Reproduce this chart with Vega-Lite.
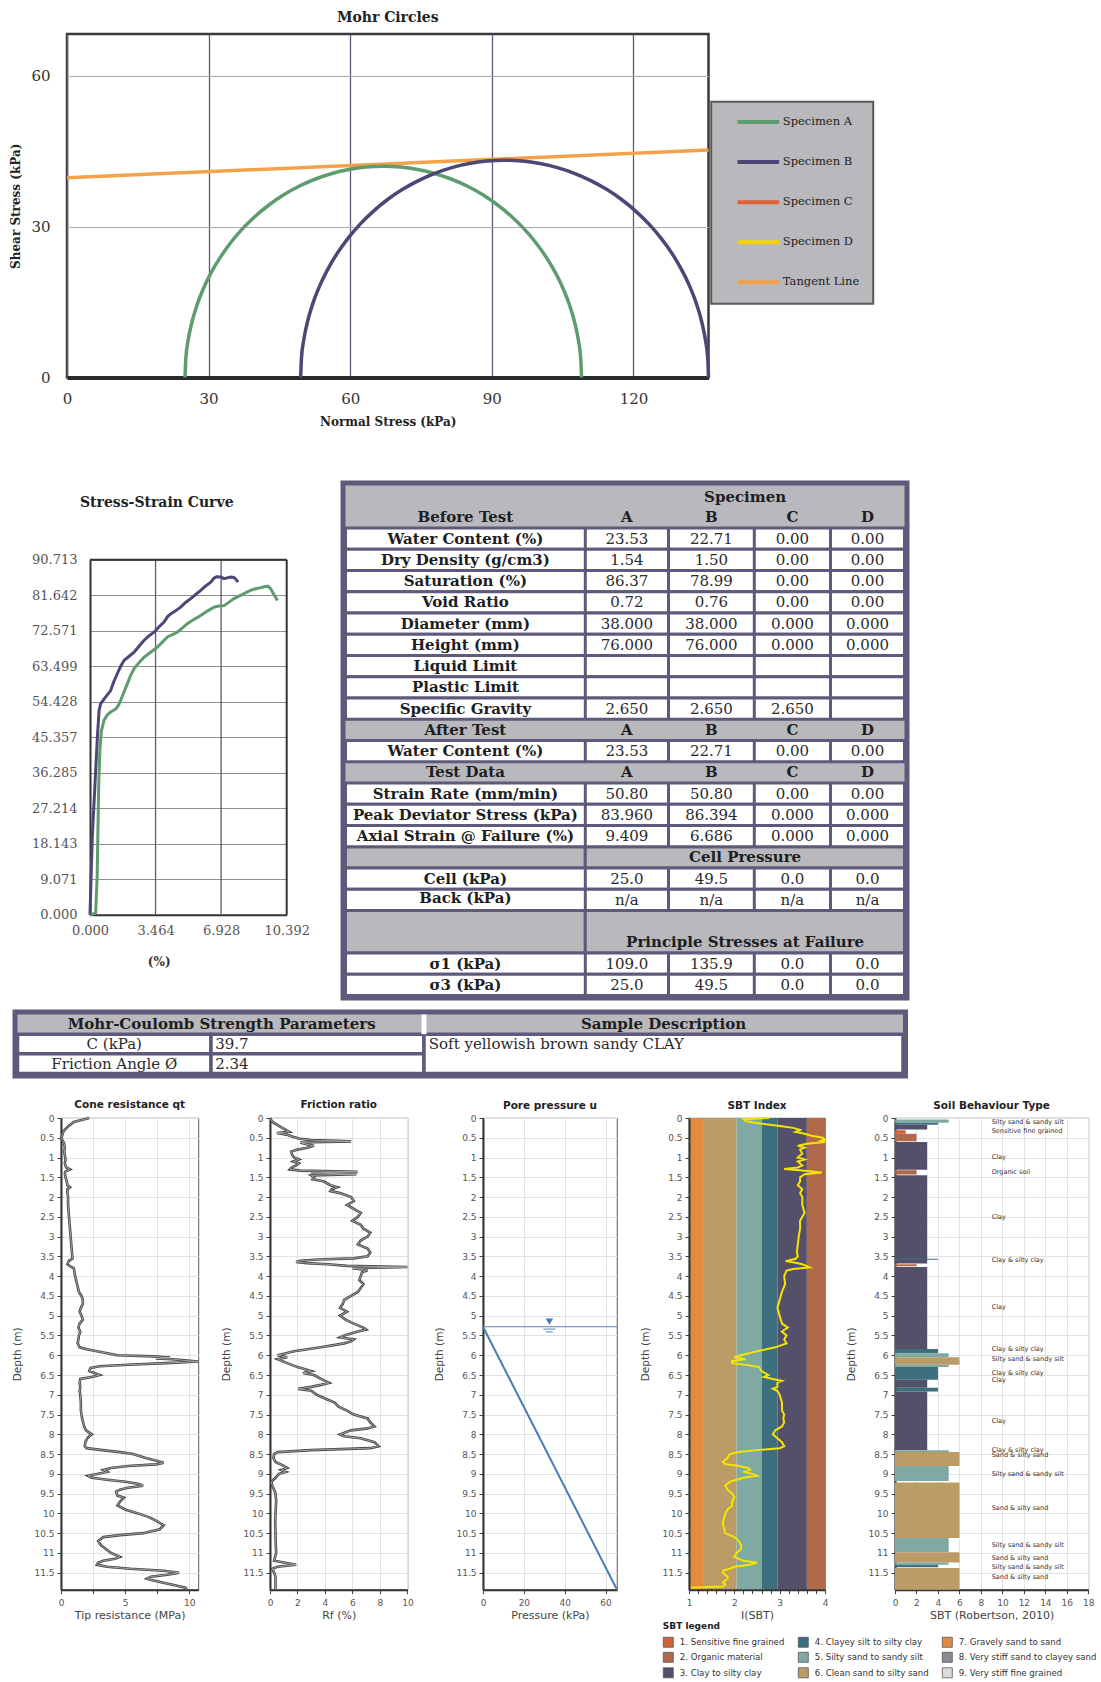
{
  "$schema": "https://vega.github.io/schema/vega-lite/v6.json",
  "autosize": {"type": "pad"},
  "padding": {"left": 0, "top": 10, "right": 0, "bottom": 0},
  "background": "#ffffff",
  "config": {
    "view": {"stroke": null},
    "font": "DejaVu Sans",
    "axis": {
      "labelFont": "DejaVu Sans", "labelFontSize": 9, "labelColor": "#555555",
      "titleFont": "DejaVu Sans", "titleFontSize": 11, "titleFontWeight": "normal", "titleColor": "#444444",
      "tickColor": "#444444", "tickSize": 4, "domainColor": "#333333", "domainWidth": 2,
      "gridColor": "#e2e2e2", "gridWidth": 1, "labelFlush": false, "labelOverlap": false, "labelBound": false
    },
    "title": {"font": "DejaVu Sans", "fontSize": 10.5, "fontWeight": "bold", "color": "#222222", "frame": "group", "baseline": "middle", "anchor": "middle", "offset": 2.75},
    "legend": {"strokeWidth": 2},
    "line": {"strokeCap": "butt"}
  },
  "datasets": {
    "tbl": [
      {"k": "head", "x0": 0, "x1": 5, "y0": 0, "y1": 2},
      {"k": "head", "x0": 0, "x1": 5, "y0": 11, "y1": 12},
      {"k": "head", "x0": 0, "x1": 5, "y0": 13, "y1": 14},
      {"k": "blk", "x0": 0, "x1": 1, "y0": 17, "y1": 18},
      {"k": "blk", "x0": 1, "x1": 5, "y0": 17, "y1": 18},
      {"k": "blk", "x0": 0, "x1": 1, "y0": 20, "y1": 22},
      {"k": "blk", "x0": 1, "x1": 5, "y0": 20, "y1": 22},
      {"k": "row", "x0": 0, "x1": 5, "y0": 2, "y1": 3},
      {"k": "row", "x0": 0, "x1": 5, "y0": 3, "y1": 4},
      {"k": "row", "x0": 0, "x1": 5, "y0": 4, "y1": 5},
      {"k": "row", "x0": 0, "x1": 5, "y0": 5, "y1": 6},
      {"k": "row", "x0": 0, "x1": 5, "y0": 6, "y1": 7},
      {"k": "row", "x0": 0, "x1": 5, "y0": 7, "y1": 8},
      {"k": "row", "x0": 0, "x1": 5, "y0": 8, "y1": 9},
      {"k": "row", "x0": 0, "x1": 5, "y0": 9, "y1": 10},
      {"k": "row", "x0": 0, "x1": 5, "y0": 10, "y1": 11},
      {"k": "row", "x0": 0, "x1": 5, "y0": 12, "y1": 13},
      {"k": "row", "x0": 0, "x1": 5, "y0": 14, "y1": 15},
      {"k": "row", "x0": 0, "x1": 5, "y0": 15, "y1": 16},
      {"k": "row", "x0": 0, "x1": 5, "y0": 16, "y1": 17},
      {"k": "row", "x0": 0, "x1": 5, "y0": 18, "y1": 19},
      {"k": "row", "x0": 0, "x1": 5, "y0": 19, "y1": 20},
      {"k": "row", "x0": 0, "x1": 5, "y0": 22, "y1": 23},
      {"k": "row", "x0": 0, "x1": 5, "y0": 23, "y1": 24},
      {"k": "sep", "x0": 1, "y0": 2, "y1": 11}, {"k": "sep", "x0": 2, "y0": 2, "y1": 11}, {"k": "sep", "x0": 3, "y0": 2, "y1": 11}, {"k": "sep", "x0": 4, "y0": 2, "y1": 11},
      {"k": "sep", "x0": 1, "y0": 12, "y1": 13}, {"k": "sep", "x0": 2, "y0": 12, "y1": 13}, {"k": "sep", "x0": 3, "y0": 12, "y1": 13}, {"k": "sep", "x0": 4, "y0": 12, "y1": 13},
      {"k": "sep", "x0": 1, "y0": 14, "y1": 17}, {"k": "sep", "x0": 2, "y0": 14, "y1": 17}, {"k": "sep", "x0": 3, "y0": 14, "y1": 17}, {"k": "sep", "x0": 4, "y0": 14, "y1": 17},
      {"k": "sep", "x0": 1, "y0": 18, "y1": 20}, {"k": "sep", "x0": 2, "y0": 18, "y1": 20}, {"k": "sep", "x0": 3, "y0": 18, "y1": 20}, {"k": "sep", "x0": 4, "y0": 18, "y1": 20},
      {"k": "sep", "x0": 1, "y0": 22, "y1": 24}, {"k": "sep", "x0": 2, "y0": 22, "y1": 24}, {"k": "sep", "x0": 3, "y0": 22, "y1": 24}, {"k": "sep", "x0": 4, "y0": 22, "y1": 24},
      {"k": "th", "x0": 2.893, "y0": 0.55, "t": "Specimen"},
      {"k": "th", "x0": 0.5, "y0": 1.5, "t": "Before Test"}, {"k": "th", "x0": 1.5, "y0": 1.5, "t": "A"}, {"k": "th", "x0": 2.5, "y0": 1.5, "t": "B"}, {"k": "th", "x0": 3.5, "y0": 1.5, "t": "C"}, {"k": "th", "x0": 4.5, "y0": 1.5, "t": "D"},
      {"k": "th", "x0": 0.5, "y0": 2.5, "t": "Water Content (%)"}, {"k": "tv", "x0": 1.5, "y0": 2.5, "t": "23.53"}, {"k": "tv", "x0": 2.5, "y0": 2.5, "t": "22.71"}, {"k": "tv", "x0": 3.5, "y0": 2.5, "t": "0.00"}, {"k": "tv", "x0": 4.5, "y0": 2.5, "t": "0.00"},
      {"k": "th", "x0": 0.5, "y0": 3.5, "t": "Dry Density (g/cm3)"}, {"k": "tv", "x0": 1.5, "y0": 3.5, "t": "1.54"}, {"k": "tv", "x0": 2.5, "y0": 3.5, "t": "1.50"}, {"k": "tv", "x0": 3.5, "y0": 3.5, "t": "0.00"}, {"k": "tv", "x0": 4.5, "y0": 3.5, "t": "0.00"},
      {"k": "th", "x0": 0.5, "y0": 4.5, "t": "Saturation (%)"}, {"k": "tv", "x0": 1.5, "y0": 4.5, "t": "86.37"}, {"k": "tv", "x0": 2.5, "y0": 4.5, "t": "78.99"}, {"k": "tv", "x0": 3.5, "y0": 4.5, "t": "0.00"}, {"k": "tv", "x0": 4.5, "y0": 4.5, "t": "0.00"},
      {"k": "th", "x0": 0.5, "y0": 5.5, "t": "Void Ratio"}, {"k": "tv", "x0": 1.5, "y0": 5.5, "t": "0.72"}, {"k": "tv", "x0": 2.5, "y0": 5.5, "t": "0.76"}, {"k": "tv", "x0": 3.5, "y0": 5.5, "t": "0.00"}, {"k": "tv", "x0": 4.5, "y0": 5.5, "t": "0.00"},
      {"k": "th", "x0": 0.5, "y0": 6.5, "t": "Diameter (mm)"}, {"k": "tv", "x0": 1.5, "y0": 6.5, "t": "38.000"}, {"k": "tv", "x0": 2.5, "y0": 6.5, "t": "38.000"}, {"k": "tv", "x0": 3.5, "y0": 6.5, "t": "0.000"}, {"k": "tv", "x0": 4.5, "y0": 6.5, "t": "0.000"},
      {"k": "th", "x0": 0.5, "y0": 7.5, "t": "Height (mm)"}, {"k": "tv", "x0": 1.5, "y0": 7.5, "t": "76.000"}, {"k": "tv", "x0": 2.5, "y0": 7.5, "t": "76.000"}, {"k": "tv", "x0": 3.5, "y0": 7.5, "t": "0.000"}, {"k": "tv", "x0": 4.5, "y0": 7.5, "t": "0.000"},
      {"k": "th", "x0": 0.5, "y0": 8.5, "t": "Liquid Limit"},
      {"k": "th", "x0": 0.5, "y0": 9.5, "t": "Plastic Limit"},
      {"k": "th", "x0": 0.5, "y0": 10.5, "t": "Specific Gravity"}, {"k": "tv", "x0": 1.5, "y0": 10.5, "t": "2.650"}, {"k": "tv", "x0": 2.5, "y0": 10.5, "t": "2.650"}, {"k": "tv", "x0": 3.5, "y0": 10.5, "t": "2.650"},
      {"k": "th", "x0": 0.5, "y0": 11.5, "t": "After Test"}, {"k": "th", "x0": 1.5, "y0": 11.5, "t": "A"}, {"k": "th", "x0": 2.5, "y0": 11.5, "t": "B"}, {"k": "th", "x0": 3.5, "y0": 11.5, "t": "C"}, {"k": "th", "x0": 4.5, "y0": 11.5, "t": "D"},
      {"k": "th", "x0": 0.5, "y0": 12.5, "t": "Water Content (%)"}, {"k": "tv", "x0": 1.5, "y0": 12.5, "t": "23.53"}, {"k": "tv", "x0": 2.5, "y0": 12.5, "t": "22.71"}, {"k": "tv", "x0": 3.5, "y0": 12.5, "t": "0.00"}, {"k": "tv", "x0": 4.5, "y0": 12.5, "t": "0.00"},
      {"k": "th", "x0": 0.5, "y0": 13.5, "t": "Test Data"}, {"k": "th", "x0": 1.5, "y0": 13.5, "t": "A"}, {"k": "th", "x0": 2.5, "y0": 13.5, "t": "B"}, {"k": "th", "x0": 3.5, "y0": 13.5, "t": "C"}, {"k": "th", "x0": 4.5, "y0": 13.5, "t": "D"},
      {"k": "th", "x0": 0.5, "y0": 14.5, "t": "Strain Rate (mm/min)"}, {"k": "tv", "x0": 1.5, "y0": 14.5, "t": "50.80"}, {"k": "tv", "x0": 2.5, "y0": 14.5, "t": "50.80"}, {"k": "tv", "x0": 3.5, "y0": 14.5, "t": "0.00"}, {"k": "tv", "x0": 4.5, "y0": 14.5, "t": "0.00"},
      {"k": "th", "x0": 0.5, "y0": 15.5, "t": "Peak Deviator Stress (kPa)"}, {"k": "tv", "x0": 1.5, "y0": 15.5, "t": "83.960"}, {"k": "tv", "x0": 2.5, "y0": 15.5, "t": "86.394"}, {"k": "tv", "x0": 3.5, "y0": 15.5, "t": "0.000"}, {"k": "tv", "x0": 4.5, "y0": 15.5, "t": "0.000"},
      {"k": "th", "x0": 0.5, "y0": 16.5, "t": "Axial Strain @ Failure (%)"}, {"k": "tv", "x0": 1.5, "y0": 16.5, "t": "9.409"}, {"k": "tv", "x0": 2.5, "y0": 16.5, "t": "6.686"}, {"k": "tv", "x0": 3.5, "y0": 16.5, "t": "0.000"}, {"k": "tv", "x0": 4.5, "y0": 16.5, "t": "0.000"},
      {"k": "th", "x0": 2.893, "y0": 17.5, "t": "Cell Pressure"},
      {"k": "th", "x0": 0.5, "y0": 18.5, "t": "Cell (kPa)"}, {"k": "tv", "x0": 1.5, "y0": 18.5, "t": "25.0"}, {"k": "tv", "x0": 2.5, "y0": 18.5, "t": "49.5"}, {"k": "tv", "x0": 3.5, "y0": 18.5, "t": "0.0"}, {"k": "tv", "x0": 4.5, "y0": 18.5, "t": "0.0"},
      {"k": "th", "x0": 0.5, "y0": 19.4, "t": "Back (kPa)"}, {"k": "tv", "x0": 1.5, "y0": 19.5, "t": "n/a"}, {"k": "tv", "x0": 2.5, "y0": 19.5, "t": "n/a"}, {"k": "tv", "x0": 3.5, "y0": 19.5, "t": "n/a"}, {"k": "tv", "x0": 4.5, "y0": 19.5, "t": "n/a"},
      {"k": "th", "x0": 2.893, "y0": 21.5, "t": "Principle Stresses at Failure"},
      {"k": "th", "x0": 0.5, "y0": 22.5, "t": "σ1 (kPa)"}, {"k": "tv", "x0": 1.5, "y0": 22.5, "t": "109.0"}, {"k": "tv", "x0": 2.5, "y0": 22.5, "t": "135.9"}, {"k": "tv", "x0": 3.5, "y0": 22.5, "t": "0.0"}, {"k": "tv", "x0": 4.5, "y0": 22.5, "t": "0.0"},
      {"k": "th", "x0": 0.5, "y0": 23.5, "t": "σ3 (kPa)"}, {"k": "tv", "x0": 1.5, "y0": 23.5, "t": "25.0"}, {"k": "tv", "x0": 2.5, "y0": 23.5, "t": "49.5"}, {"k": "tv", "x0": 3.5, "y0": 23.5, "t": "0.0"}, {"k": "tv", "x0": 4.5, "y0": 23.5, "t": "0.0"}
    ],
    "mc": [
      {"k": "head", "x0": 0, "x1": 2, "y0": 0, "y1": 1},
      {"k": "head", "x0": 2, "x1": 3, "y0": 0, "y1": 1},
      {"k": "cell", "x0": 0, "x1": 1, "y0": 1, "y1": 2},
      {"k": "cell", "x0": 1, "x1": 2, "y0": 1, "y1": 2},
      {"k": "cell", "x0": 0, "x1": 1, "y0": 2, "y1": 3},
      {"k": "cell", "x0": 1, "x1": 2, "y0": 2, "y1": 3},
      {"k": "cell", "x0": 2, "x1": 3, "y0": 1, "y1": 3},
      {"k": "wsep", "x0": 2, "y0": 0, "y1": 1},
      {"k": "th", "x0": 1.05, "y0": 0.5, "t": "Mohr-Coulomb Strength Parameters"},
      {"k": "th", "x0": 2.5, "y0": 0.5, "t": "Sample Description"},
      {"k": "tc", "x0": 0.5, "y0": 1.5, "t": "C (kPa)"},
      {"k": "tc", "x0": 0.5, "y0": 2.5, "t": "Friction Angle Ø"},
      {"k": "tl", "x0": 1.02, "y0": 1.5, "t": "39.7"},
      {"k": "tl", "x0": 1.02, "y0": 2.5, "t": "2.34"},
      {"k": "tl", "x0": 2.01, "y0": 1.5, "t": "Soft yellowish brown sandy CLAY"}
    ]
  },
  "spacing": 0,
  "resolve": {
    "scale": {"color": "independent", "fill": "independent", "stroke": "independent"},
    "legend": {"color": "independent", "fill": "independent", "stroke": "independent"}
  },
  "vconcat": [
    {
      "spacing": 0,
      "bounds": "flush",
      "resolve": {"scale": {"color": "independent"}, "legend": {"color": "independent"}},
      "hconcat": [
        {"width": 66.5, "height": 446, "data": {"values": []}, "mark": "point"},
        {
          "width": 641.5,
          "height": 343.5,
          "view": {"stroke": "#3a3a3a", "strokeWidth": 2.5},
          "title": {"text": "Mohr Circles", "font": "DejaVu Serif", "fontSize": 14, "fontWeight": "bold", "color": "#222222", "offset": 8.75},
          "data": {"values": [
            {"s": "Tangent Line", "a": 0, "x": 0, "y": 39.7},
            {"s": "Tangent Line", "a": 180, "x": 135.9, "y": 45.25},
            {"s": "Specimen A", "a": 0, "x": 25, "y": 0}, {"s": "Specimen A", "a": 5, "x": 25.16, "y": 3.66}, {"s": "Specimen A", "a": 10, "x": 25.64, "y": 7.29},
            {"s": "Specimen A", "a": 15, "x": 26.43, "y": 10.87}, {"s": "Specimen A", "a": 20, "x": 27.53, "y": 14.36}, {"s": "Specimen A", "a": 25, "x": 28.93, "y": 17.75},
            {"s": "Specimen A", "a": 30, "x": 30.63, "y": 21}, {"s": "Specimen A", "a": 35, "x": 32.6, "y": 24.09}, {"s": "Specimen A", "a": 40, "x": 34.83, "y": 27},
            {"s": "Specimen A", "a": 45, "x": 37.3, "y": 29.7}, {"s": "Specimen A", "a": 50, "x": 40, "y": 32.17}, {"s": "Specimen A", "a": 55, "x": 42.91, "y": 34.4},
            {"s": "Specimen A", "a": 60, "x": 46, "y": 36.37}, {"s": "Specimen A", "a": 65, "x": 49.25, "y": 38.07}, {"s": "Specimen A", "a": 70, "x": 52.64, "y": 39.47},
            {"s": "Specimen A", "a": 75, "x": 56.13, "y": 40.57}, {"s": "Specimen A", "a": 80, "x": 59.71, "y": 41.36}, {"s": "Specimen A", "a": 85, "x": 63.34, "y": 41.84},
            {"s": "Specimen A", "a": 90, "x": 67, "y": 42}, {"s": "Specimen A", "a": 95, "x": 70.66, "y": 41.84}, {"s": "Specimen A", "a": 100, "x": 74.29, "y": 41.36},
            {"s": "Specimen A", "a": 105, "x": 77.87, "y": 40.57}, {"s": "Specimen A", "a": 110, "x": 81.36, "y": 39.47}, {"s": "Specimen A", "a": 115, "x": 84.75, "y": 38.07},
            {"s": "Specimen A", "a": 120, "x": 88, "y": 36.37}, {"s": "Specimen A", "a": 125, "x": 91.09, "y": 34.4}, {"s": "Specimen A", "a": 130, "x": 94, "y": 32.17},
            {"s": "Specimen A", "a": 135, "x": 96.7, "y": 29.7}, {"s": "Specimen A", "a": 140, "x": 99.17, "y": 27}, {"s": "Specimen A", "a": 145, "x": 101.4, "y": 24.09},
            {"s": "Specimen A", "a": 150, "x": 103.37, "y": 21}, {"s": "Specimen A", "a": 155, "x": 105.07, "y": 17.75}, {"s": "Specimen A", "a": 160, "x": 106.47, "y": 14.36},
            {"s": "Specimen A", "a": 165, "x": 107.57, "y": 10.87}, {"s": "Specimen A", "a": 170, "x": 108.36, "y": 7.29}, {"s": "Specimen A", "a": 175, "x": 108.84, "y": 3.66},
            {"s": "Specimen A", "a": 180, "x": 109, "y": 0},
            {"s": "Specimen B", "a": 0, "x": 49.5, "y": 0}, {"s": "Specimen B", "a": 5, "x": 49.66, "y": 3.77}, {"s": "Specimen B", "a": 10, "x": 50.16, "y": 7.5},
            {"s": "Specimen B", "a": 15, "x": 50.97, "y": 11.18}, {"s": "Specimen B", "a": 20, "x": 52.11, "y": 14.78}, {"s": "Specimen B", "a": 25, "x": 53.55, "y": 18.26},
            {"s": "Specimen B", "a": 30, "x": 55.29, "y": 21.6}, {"s": "Specimen B", "a": 35, "x": 57.31, "y": 24.78}, {"s": "Specimen B", "a": 40, "x": 59.61, "y": 27.77},
            {"s": "Specimen B", "a": 45, "x": 62.15, "y": 30.55}, {"s": "Specimen B", "a": 50, "x": 64.93, "y": 33.09}, {"s": "Specimen B", "a": 55, "x": 67.92, "y": 35.39},
            {"s": "Specimen B", "a": 60, "x": 71.1, "y": 37.41}, {"s": "Specimen B", "a": 65, "x": 74.44, "y": 39.15}, {"s": "Specimen B", "a": 70, "x": 77.93, "y": 40.6},
            {"s": "Specimen B", "a": 75, "x": 81.52, "y": 41.73}, {"s": "Specimen B", "a": 80, "x": 85.2, "y": 42.54}, {"s": "Specimen B", "a": 85, "x": 88.94, "y": 43.04},
            {"s": "Specimen B", "a": 90, "x": 92.7, "y": 43.2}, {"s": "Specimen B", "a": 95, "x": 96.47, "y": 43.04}, {"s": "Specimen B", "a": 100, "x": 100.2, "y": 42.54},
            {"s": "Specimen B", "a": 105, "x": 103.88, "y": 41.73}, {"s": "Specimen B", "a": 110, "x": 107.48, "y": 40.6}, {"s": "Specimen B", "a": 115, "x": 110.96, "y": 39.15},
            {"s": "Specimen B", "a": 120, "x": 114.3, "y": 37.41}, {"s": "Specimen B", "a": 125, "x": 117.48, "y": 35.39}, {"s": "Specimen B", "a": 130, "x": 120.47, "y": 33.09},
            {"s": "Specimen B", "a": 135, "x": 123.25, "y": 30.55}, {"s": "Specimen B", "a": 140, "x": 125.79, "y": 27.77}, {"s": "Specimen B", "a": 145, "x": 128.09, "y": 24.78},
            {"s": "Specimen B", "a": 150, "x": 130.11, "y": 21.6}, {"s": "Specimen B", "a": 155, "x": 131.86, "y": 18.26}, {"s": "Specimen B", "a": 160, "x": 133.3, "y": 14.78},
            {"s": "Specimen B", "a": 165, "x": 134.43, "y": 11.18}, {"s": "Specimen B", "a": 170, "x": 135.24, "y": 7.5}, {"s": "Specimen B", "a": 175, "x": 135.74, "y": 3.77},
            {"s": "Specimen B", "a": 180, "x": 135.9, "y": 0}
          ]},
          "mark": {"type": "line", "strokeWidth": 3.5, "interpolate": "monotone"},
          "encoding": {
            "x": {
              "field": "x", "type": "quantitative",
              "scale": {"domain": [0, 135.9], "nice": false},
              "axis": {
                "title": "Normal Stress (kPa)", "values": [0, 30, 60, 90, 120], "grid": true, "gridColor": "#5c5a78", "gridWidth": 1.3,
                "ticks": false, "domain": true, "domainColor": "#2a2a2a", "domainWidth": 4,
                "labelFont": "DejaVu Serif", "labelFontSize": 15, "labelColor": "#333333", "labelPadding": 14,
                "titleFont": "DejaVu Serif", "titleFontSize": 12, "titleFontWeight": "bold", "titleColor": "#222222", "titlePadding": 10
              }
            },
            "y": {
              "field": "y", "type": "quantitative",
              "scale": {"domain": [0, 68.3], "nice": false},
              "axis": {
                "title": "Shear Stress (kPa)", "values": [0, 30, 60], "grid": true, "gridColor": "#a9a9a9", "gridWidth": 1,
                "ticks": false, "domain": false,
                "labelFont": "DejaVu Serif", "labelFontSize": 15, "labelColor": "#333333", "labelPadding": 17,
                "titleFont": "DejaVu Serif", "titleFontSize": 12, "titleFontWeight": "bold", "titleColor": "#222222", "titlePadding": 8
              }
            },
            "color": {
              "field": "s", "type": "nominal",
              "scale": {
                "domain": ["Specimen A", "Specimen B", "Specimen C", "Specimen D", "Tangent Line"],
                "range": ["#5e9c6e", "#4c4776", "#e0603a", "#f2d400", "#f4a24a"]
              },
              "legend": {
                "title": null, "orient": "none", "legendX": 644.2, "legendY": 67.7,
                "padding": 13.25, "fillColor": "#b9b9bd", "strokeColor": "#5a5a5a",
                "symbolType": "M1.21,0H9.55", "symbolSize": 100, "symbolStrokeWidth": 4,
                "labelOffset": 44.35, "rowPadding": 24.1,
                "labelFont": "DejaVu Serif", "labelFontSize": 11.5, "labelColor": "#222222", "labelLimit": 0
              }
            },
            "order": {"field": "a", "type": "quantitative"}
          }
        }
      ]
    },
    {
      "spacing": 0,
      "bounds": "flush",
      "hconcat": [
        {"width": 89.3, "height": 525.5, "data": {"values": []}, "mark": "point"},
        {
          "width": 196.7,
          "height": 431.8,
          "title": {"text": "Stress-Strain Curve", "font": "DejaVu Serif", "fontSize": 14, "fontWeight": "bold", "color": "#222222", "offset": -27.2, "dx": -31.6},
          "layer": [
            {
              "data": {"values": [{"g": 3.464, "lo": 0, "hi": 90.713}, {"g": 6.928, "lo": 0, "hi": 90.713}]},
              "mark": {"type": "rule", "color": "#5c5a78", "strokeWidth": 1.3},
              "encoding": {
                "x": {"field": "g", "type": "quantitative", "scale": {"domain": [0, 10.392], "nice": false}},
                "y": {"field": "lo", "type": "quantitative"},
                "y2": {"field": "hi"}
              }
            },
            {
              "data": {"values": [
                {"s": "Specimen B", "e": 0, "q": 0}, {"s": "Specimen B", "e": 0.12, "q": 19.8}, {"s": "Specimen B", "e": 0.3, "q": 36.9},
                {"s": "Specimen B", "e": 0.39, "q": 45.4}, {"s": "Specimen B", "e": 0.48, "q": 52.2}, {"s": "Specimen B", "e": 0.56, "q": 53.9},
                {"s": "Specimen B", "e": 0.8, "q": 55.5}, {"s": "Specimen B", "e": 1.09, "q": 57.3}, {"s": "Specimen B", "e": 1.25, "q": 59.5},
                {"s": "Specimen B", "e": 1.44, "q": 61.6}, {"s": "Specimen B", "e": 1.62, "q": 63.5}, {"s": "Specimen B", "e": 1.8, "q": 65.0},
                {"s": "Specimen B", "e": 2.05, "q": 66.0}, {"s": "Specimen B", "e": 2.33, "q": 67.1}, {"s": "Specimen B", "e": 2.6, "q": 68.7},
                {"s": "Specimen B", "e": 2.85, "q": 70.1}, {"s": "Specimen B", "e": 3.1, "q": 71.2}, {"s": "Specimen B", "e": 3.38, "q": 72.2},
                {"s": "Specimen B", "e": 3.65, "q": 73.6}, {"s": "Specimen B", "e": 3.91, "q": 74.8}, {"s": "Specimen B", "e": 4.1, "q": 76.2},
                {"s": "Specimen B", "e": 4.26, "q": 76.9}, {"s": "Specimen B", "e": 4.5, "q": 77.6}, {"s": "Specimen B", "e": 4.79, "q": 78.6},
                {"s": "Specimen B", "e": 5.05, "q": 79.8}, {"s": "Specimen B", "e": 5.32, "q": 80.8}, {"s": "Specimen B", "e": 5.6, "q": 81.9},
                {"s": "Specimen B", "e": 5.85, "q": 82.9}, {"s": "Specimen B", "e": 6.1, "q": 84.0}, {"s": "Specimen B", "e": 6.38, "q": 85.0},
                {"s": "Specimen B", "e": 6.55, "q": 86.0}, {"s": "Specimen B", "e": 6.686, "q": 86.394}, {"s": "Specimen B", "e": 6.91, "q": 86.3},
                {"s": "Specimen B", "e": 7.08, "q": 85.9}, {"s": "Specimen B", "e": 7.25, "q": 86.1}, {"s": "Specimen B", "e": 7.43, "q": 86.3},
                {"s": "Specimen B", "e": 7.6, "q": 86.2}, {"s": "Specimen B", "e": 7.72, "q": 85.7}, {"s": "Specimen B", "e": 7.82, "q": 85.0},
                {"s": "Specimen A", "e": 0.05, "q": 0}, {"s": "Specimen A", "e": 0.3, "q": 0.5}, {"s": "Specimen A", "e": 0.38, "q": 10},
                {"s": "Specimen A", "e": 0.42, "q": 22}, {"s": "Specimen A", "e": 0.46, "q": 33}, {"s": "Specimen A", "e": 0.52, "q": 42},
                {"s": "Specimen A", "e": 0.6, "q": 47}, {"s": "Specimen A", "e": 0.74, "q": 49.7}, {"s": "Specimen A", "e": 0.9, "q": 51},
                {"s": "Specimen A", "e": 1.09, "q": 51.8}, {"s": "Specimen A", "e": 1.36, "q": 52.6}, {"s": "Specimen A", "e": 1.5, "q": 53.5},
                {"s": "Specimen A", "e": 1.62, "q": 54.8}, {"s": "Specimen A", "e": 1.8, "q": 57.0}, {"s": "Specimen A", "e": 1.97, "q": 59.0},
                {"s": "Specimen A", "e": 2.15, "q": 61.2}, {"s": "Specimen A", "e": 2.33, "q": 62.9}, {"s": "Specimen A", "e": 2.6, "q": 64.5},
                {"s": "Specimen A", "e": 2.85, "q": 65.8}, {"s": "Specimen A", "e": 3.2, "q": 67.1}, {"s": "Specimen A", "e": 3.56, "q": 68.4},
                {"s": "Specimen A", "e": 3.85, "q": 69.8}, {"s": "Specimen A", "e": 4.09, "q": 71.0}, {"s": "Specimen A", "e": 4.35, "q": 71.6},
                {"s": "Specimen A", "e": 4.61, "q": 72.2}, {"s": "Specimen A", "e": 4.9, "q": 73.4}, {"s": "Specimen A", "e": 5.14, "q": 74.4},
                {"s": "Specimen A", "e": 5.5, "q": 75.5}, {"s": "Specimen A", "e": 5.85, "q": 76.5}, {"s": "Specimen A", "e": 6.2, "q": 77.6},
                {"s": "Specimen A", "e": 6.55, "q": 78.6}, {"s": "Specimen A", "e": 6.8, "q": 78.9}, {"s": "Specimen A", "e": 7.08, "q": 79.0},
                {"s": "Specimen A", "e": 7.35, "q": 79.9}, {"s": "Specimen A", "e": 7.61, "q": 80.8}, {"s": "Specimen A", "e": 7.95, "q": 81.6},
                {"s": "Specimen A", "e": 8.31, "q": 82.5}, {"s": "Specimen A", "e": 8.65, "q": 83.2}, {"s": "Specimen A", "e": 9.02, "q": 83.6},
                {"s": "Specimen A", "e": 9.25, "q": 83.9}, {"s": "Specimen A", "e": 9.409, "q": 83.96}, {"s": "Specimen A", "e": 9.55, "q": 83.3},
                {"s": "Specimen A", "e": 9.7, "q": 82.0}, {"s": "Specimen A", "e": 9.82, "q": 81.0}, {"s": "Specimen A", "e": 9.9, "q": 80.3}
              ]},
              "mark": {"type": "line", "strokeWidth": 3},
              "encoding": {
                "x": {
                  "field": "e", "type": "quantitative",
                  "scale": {"domain": [0, 10.392], "nice": false},
                  "axis": {
                    "title": "(%)", "values": [0, 3.464, 6.928, 10.392], "format": ".3f", "grid": false, "ticks": false,
                    "domain": true, "domainColor": "#333333", "domainWidth": 2,
                    "labelFont": "DejaVu Serif", "labelFontSize": 13, "labelColor": "#555555", "labelPadding": 10,
                    "titleFont": "DejaVu Serif", "titleFontSize": 12, "titleFontWeight": "bold", "titleColor": "#333333", "titlePadding": 19, "titleX": 68.7
                  }
                },
                "y": {
                  "field": "q", "type": "quantitative",
                  "scale": {"domain": [0, 90.713], "nice": false, "range": [431.8, 76.8]},
                  "axis": {
                    "title": null, "values": [0, 9.071, 18.143, 27.214, 36.285, 45.357, 54.428, 63.499, 72.571, 81.642, 90.713], "format": ".3f",
                    "grid": true, "gridColor": "#8e8e8e", "gridWidth": 1, "ticks": false,
                    "domain": true, "domainColor": "#333333", "domainWidth": 2,
                    "labelFont": "DejaVu Serif", "labelFontSize": 13, "labelColor": "#555555", "labelPadding": 13
                  }
                },
                "stroke": {"field": "s", "type": "nominal", "scale": {"domain": ["Specimen A", "Specimen B"], "range": ["#5e9c6e", "#4c4776"]}, "legend": null},
                "order": {"field": "e", "type": "quantitative"}
              }
            },
            {
              "data": {"values": [{"a": 0, "b": 10.392, "c": 90.713}]},
              "mark": {"type": "rule", "color": "#333333", "strokeWidth": 2},
              "encoding": {"x": {"field": "a", "type": "quantitative"}, "x2": {"field": "b"}, "y": {"field": "c", "type": "quantitative"}}
            },
            {
              "data": {"values": [{"a": 10.392, "c": 0, "f": 90.713}]},
              "mark": {"type": "rule", "color": "#333333", "strokeWidth": 2},
              "encoding": {"x": {"field": "a", "type": "quantitative"}, "y": {"field": "c", "type": "quantitative"}, "y2": {"field": "f"}}
            }
          ]
        },
        {"width": 55.5, "height": 1, "data": {"values": []}, "mark": "point"},
        {
          "width": 564,
          "height": 515,
          "view": {"stroke": "#5e5a7b", "strokeWidth": 5, "fill": "#5e5a7b"},
          "data": {"name": "tbl"},
          "encoding": {
            "x": {"field": "x0", "type": "quantitative", "scale": {"type": "linear", "domain": [0, 1, 2, 3, 4, 5], "range": [2.5, 242.3, 325.5, 411.3, 487.5, 561.5]}, "axis": null},
            "y": {"field": "y0", "type": "quantitative", "scale": {"domain": [0, 24], "range": [2.5, 512.5]}, "axis": null}
          },
          "layer": [
            {"transform": [{"filter": "datum.k === 'head'"}], "mark": {"type": "rect", "fill": "#b8b8bd"}, "encoding": {"x2": {"field": "x1"}, "y2": {"field": "y1"}}},
            {"transform": [{"filter": "datum.k === 'blk'"}], "mark": {"type": "rect", "fill": "#b8b8bd", "stroke": "#5e5a7b", "strokeWidth": 3}, "encoding": {"x2": {"field": "x1"}, "y2": {"field": "y1"}}},
            {"transform": [{"filter": "datum.k === 'row'"}], "mark": {"type": "rect", "fill": "#ffffff", "stroke": "#5e5a7b", "strokeWidth": 3}, "encoding": {"x2": {"field": "x1"}, "y2": {"field": "y1"}}},
            {"transform": [{"filter": "datum.k === 'sep'"}], "mark": {"type": "rule", "color": "#5e5a7b", "strokeWidth": 3}, "encoding": {"y2": {"field": "y1"}}},
            {"transform": [{"filter": "datum.k === 'th'"}], "mark": {"type": "text", "font": "DejaVu Serif", "fontSize": 15, "fontWeight": "bold", "color": "#1e1e1e", "align": "center", "baseline": "middle"}, "encoding": {"text": {"field": "t"}}},
            {"transform": [{"filter": "datum.k === 'tv'"}], "mark": {"type": "text", "font": "DejaVu Serif", "fontSize": 15, "color": "#2a2a2a", "align": "center", "baseline": "middle"}, "encoding": {"text": {"field": "t"}}}
          ]
        }
      ]
    },
    {
      "spacing": 0,
      "bounds": "flush",
      "hconcat": [
        {"width": 15, "height": 85.5, "data": {"values": []}, "mark": "point"},
        {
          "width": 890.5,
          "height": 64,
          "view": {"stroke": "#5e5a7b", "strokeWidth": 5, "fill": "#5e5a7b"},
          "data": {"name": "mc"},
          "encoding": {
            "x": {"field": "x0", "type": "quantitative", "scale": {"type": "linear", "domain": [0, 1, 2, 3], "range": [2.5, 196, 409, 888]}, "axis": null},
            "y": {"field": "y0", "type": "quantitative", "scale": {"domain": [0, 3], "range": [2.5, 61.5]}, "axis": null}
          },
          "layer": [
            {"transform": [{"filter": "datum.k === 'head'"}], "mark": {"type": "rect", "fill": "#b8b8bd"}, "encoding": {"x2": {"field": "x1"}, "y2": {"field": "y1"}}},
            {"transform": [{"filter": "datum.k === 'cell'"}], "mark": {"type": "rect", "fill": "#ffffff", "stroke": "#5e5a7b", "strokeWidth": 3.5}, "encoding": {"x2": {"field": "x1"}, "y2": {"field": "y1"}}},
            {"transform": [{"filter": "datum.k === 'wsep'"}], "mark": {"type": "rule", "color": "#ffffff", "strokeWidth": 5}, "encoding": {"y2": {"field": "y1"}}},
            {"transform": [{"filter": "datum.k === 'th'"}], "mark": {"type": "text", "font": "DejaVu Serif", "fontSize": 15, "fontWeight": "bold", "color": "#1e1e1e", "align": "center", "baseline": "middle"}, "encoding": {"text": {"field": "t"}}},
            {"transform": [{"filter": "datum.k === 'tc'"}], "mark": {"type": "text", "font": "DejaVu Serif", "fontSize": 15, "color": "#2a2a2a", "align": "center", "baseline": "middle"}, "encoding": {"text": {"field": "t"}}},
            {"transform": [{"filter": "datum.k === 'tl'"}], "mark": {"type": "text", "font": "DejaVu Serif", "fontSize": 15, "color": "#2a2a2a", "align": "left", "baseline": "middle"}, "encoding": {"text": {"field": "t"}}}
          ]
        }
      ]
    },
    {
      "spacing": 0,
      "bounds": "flush",
      "resolve": {"scale": {"fill": "independent"}, "legend": {"fill": "independent"}},
      "hconcat": [
        {"width": 61, "height": 1, "data": {"values": []}, "mark": "point"},
        {
          "width": 137.3,
          "height": 471.7,
          "view": {"stroke": "#777777", "strokeWidth": 1.2},
          "title": {"text": "Cone resistance qt"},
          "data": {"values": [
            {"d": 0, "v": 2.2}, {"d": 0.05, "v": 1.6}, {"d": 0.1, "v": 1.0}, {"d": 0.2, "v": 0.6}, {"d": 0.33, "v": 0.2}, {"d": 0.45, "v": 0.08},
            {"d": 0.52, "v": 0.0}, {"d": 0.58, "v": 0.15}, {"d": 0.65, "v": 0.25}, {"d": 0.75, "v": 0.3}, {"d": 0.85, "v": 0.25}, {"d": 0.95, "v": 0.3},
            {"d": 1.05, "v": 0.35}, {"d": 1.15, "v": 0.3}, {"d": 1.25, "v": 0.4}, {"d": 1.3, "v": 0.7}, {"d": 1.35, "v": 0.35}, {"d": 1.4, "v": 0.3},
            {"d": 1.5, "v": 0.35}, {"d": 1.6, "v": 0.45}, {"d": 1.7, "v": 0.5}, {"d": 1.75, "v": 0.7}, {"d": 1.8, "v": 0.5}, {"d": 1.9, "v": 0.5},
            {"d": 2.0, "v": 0.55}, {"d": 2.2, "v": 0.55}, {"d": 2.4, "v": 0.6}, {"d": 2.6, "v": 0.65}, {"d": 2.8, "v": 0.7}, {"d": 3.0, "v": 0.75},
            {"d": 3.2, "v": 0.8}, {"d": 3.4, "v": 0.85}, {"d": 3.55, "v": 0.9}, {"d": 3.62, "v": 0.6}, {"d": 3.7, "v": 0.5}, {"d": 3.75, "v": 0.7},
            {"d": 3.8, "v": 1.0}, {"d": 3.9, "v": 1.05}, {"d": 4.0, "v": 1.1}, {"d": 4.2, "v": 1.25}, {"d": 4.4, "v": 1.4}, {"d": 4.5, "v": 1.6},
            {"d": 4.6, "v": 1.7}, {"d": 4.7, "v": 1.7}, {"d": 4.8, "v": 1.55}, {"d": 4.9, "v": 1.45}, {"d": 5.0, "v": 1.6}, {"d": 5.1, "v": 1.7},
            {"d": 5.2, "v": 1.45}, {"d": 5.3, "v": 1.35}, {"d": 5.4, "v": 1.5}, {"d": 5.5, "v": 1.4}, {"d": 5.6, "v": 1.35}, {"d": 5.7, "v": 1.3},
            {"d": 5.8, "v": 1.45}, {"d": 5.85, "v": 2.0}, {"d": 5.9, "v": 2.8}, {"d": 5.95, "v": 3.6}, {"d": 6.0, "v": 4.4}, {"d": 6.03, "v": 7.2},
            {"d": 6.06, "v": 8.5}, {"d": 6.08, "v": 7.4}, {"d": 6.1, "v": 8.7}, {"d": 6.13, "v": 9.6}, {"d": 6.16, "v": 10.7}, {"d": 6.2, "v": 8.2},
            {"d": 6.24, "v": 5.2}, {"d": 6.28, "v": 3.0}, {"d": 6.32, "v": 2.3}, {"d": 6.4, "v": 2.2}, {"d": 6.45, "v": 2.6}, {"d": 6.5, "v": 3.0},
            {"d": 6.55, "v": 2.4}, {"d": 6.6, "v": 1.5}, {"d": 6.7, "v": 1.45}, {"d": 6.8, "v": 1.5}, {"d": 6.9, "v": 1.45}, {"d": 7.0, "v": 1.5},
            {"d": 7.2, "v": 1.55}, {"d": 7.4, "v": 1.55}, {"d": 7.6, "v": 1.65}, {"d": 7.8, "v": 1.8}, {"d": 7.9, "v": 1.95}, {"d": 8.0, "v": 2.4},
            {"d": 8.05, "v": 2.2}, {"d": 8.1, "v": 2.05}, {"d": 8.2, "v": 1.9}, {"d": 8.3, "v": 1.85}, {"d": 8.35, "v": 2.0}, {"d": 8.4, "v": 3.2},
            {"d": 8.45, "v": 4.6}, {"d": 8.5, "v": 5.6}, {"d": 8.6, "v": 6.6}, {"d": 8.68, "v": 7.6}, {"d": 8.72, "v": 8.0}, {"d": 8.76, "v": 7.4},
            {"d": 8.8, "v": 5.2}, {"d": 8.85, "v": 3.9}, {"d": 8.9, "v": 3.3}, {"d": 8.95, "v": 3.6}, {"d": 9.0, "v": 2.9}, {"d": 9.05, "v": 2.1},
            {"d": 9.1, "v": 2.4}, {"d": 9.15, "v": 3.6}, {"d": 9.2, "v": 5.0}, {"d": 9.25, "v": 6.0}, {"d": 9.3, "v": 6.4}, {"d": 9.35, "v": 5.2},
            {"d": 9.4, "v": 4.6}, {"d": 9.45, "v": 4.3}, {"d": 9.55, "v": 4.4}, {"d": 9.6, "v": 4.9}, {"d": 9.7, "v": 4.6}, {"d": 9.8, "v": 4.4},
            {"d": 9.9, "v": 5.0}, {"d": 10.0, "v": 6.0}, {"d": 10.1, "v": 6.9}, {"d": 10.2, "v": 7.5}, {"d": 10.3, "v": 8.0}, {"d": 10.4, "v": 7.7},
            {"d": 10.5, "v": 6.4}, {"d": 10.55, "v": 4.6}, {"d": 10.6, "v": 3.3}, {"d": 10.7, "v": 2.9}, {"d": 10.8, "v": 3.1}, {"d": 10.9, "v": 3.5},
            {"d": 11.0, "v": 3.9}, {"d": 11.1, "v": 4.6}, {"d": 11.15, "v": 4.2}, {"d": 11.2, "v": 3.3}, {"d": 11.25, "v": 2.9}, {"d": 11.3, "v": 2.8},
            {"d": 11.35, "v": 3.6}, {"d": 11.4, "v": 5.4}, {"d": 11.45, "v": 8.0}, {"d": 11.5, "v": 9.2}, {"d": 11.55, "v": 8.3}, {"d": 11.6, "v": 7.0},
            {"d": 11.65, "v": 6.7}, {"d": 11.7, "v": 7.2}, {"d": 11.8, "v": 8.6}, {"d": 11.88, "v": 9.7}, {"d": 11.93, "v": 9.8}
          ]},
          "encoding": {
            "x": {
              "field": "v", "type": "quantitative", "scale": {"domain": [0, 10.7], "nice": false},
              "axis": {"title": "Tip resistance (MPa)", "values": [0, 2.5, 5, 7.5, 10], "labelExpr": "datum.value % 5 === 0 ? datum.label : ''", "grid": true, "labelPadding": 4.5, "titlePadding": 2.5}
            },
            "y": {
              "field": "d", "type": "quantitative", "scale": {"domain": [0, 11.93], "reverse": true, "nice": false},
              "axis": {"title": "Depth (m)", "values": [0, 0.5, 1, 1.5, 2, 2.5, 3, 3.5, 4, 4.5, 5, 5.5, 6, 6.5, 7, 7.5, 8, 8.5, 9, 9.5, 10, 10.5, 11, 11.5], "format": "~f", "grid": true, "labelPadding": 3, "titlePadding": 11, "titleFontSize": 10.5}
            },
            "order": {"field": "d", "type": "quantitative"}
          },
          "layer": [
            {"mark": {"type": "line", "color": "#454545", "strokeWidth": 2.6}},
            {"mark": {"type": "line", "color": "#b8b8b8", "strokeWidth": 0.8}}
          ]
        },
        {"width": 71, "height": 1, "data": {"values": []}, "mark": "point"},
        {
          "width": 137.4,
          "height": 471.7,
          "view": {"stroke": "#777777", "strokeWidth": 1.2},
          "title": {"text": "Friction ratio"},
          "data": {"values": [
            {"d": 0, "v": 0}, {"d": 0.1, "v": 0.17}, {"d": 0.2, "v": 0.65}, {"d": 0.3, "v": 1.15}, {"d": 0.35, "v": 1.4}, {"d": 0.38, "v": 0.5},
            {"d": 0.42, "v": 1.2}, {"d": 0.47, "v": 1.6}, {"d": 0.52, "v": 2.1}, {"d": 0.56, "v": 3.0}, {"d": 0.59, "v": 5.9}, {"d": 0.62, "v": 2.2},
            {"d": 0.66, "v": 2.6}, {"d": 0.7, "v": 3.2}, {"d": 0.75, "v": 2.7}, {"d": 0.8, "v": 2.0}, {"d": 0.85, "v": 1.55}, {"d": 0.92, "v": 1.6},
            {"d": 1.0, "v": 1.75}, {"d": 1.05, "v": 2.1}, {"d": 1.1, "v": 1.7}, {"d": 1.15, "v": 2.1}, {"d": 1.2, "v": 1.9}, {"d": 1.25, "v": 1.6},
            {"d": 1.3, "v": 1.45}, {"d": 1.33, "v": 2.2}, {"d": 1.36, "v": 6.4}, {"d": 1.39, "v": 3.0}, {"d": 1.42, "v": 6.3}, {"d": 1.45, "v": 3.0},
            {"d": 1.5, "v": 3.2}, {"d": 1.55, "v": 3.1}, {"d": 1.6, "v": 3.9}, {"d": 1.7, "v": 4.4}, {"d": 1.75, "v": 4.9}, {"d": 1.8, "v": 4.5},
            {"d": 1.85, "v": 4.4}, {"d": 1.9, "v": 5.1}, {"d": 2.0, "v": 5.9}, {"d": 2.1, "v": 6.1}, {"d": 2.2, "v": 5.6}, {"d": 2.3, "v": 6.1},
            {"d": 2.4, "v": 6.6}, {"d": 2.5, "v": 6.4}, {"d": 2.6, "v": 6.0}, {"d": 2.7, "v": 6.6}, {"d": 2.8, "v": 6.8}, {"d": 2.9, "v": 7.3},
            {"d": 3.0, "v": 7.1}, {"d": 3.1, "v": 6.6}, {"d": 3.2, "v": 6.4}, {"d": 3.3, "v": 7.1}, {"d": 3.4, "v": 7.3}, {"d": 3.5, "v": 7.1},
            {"d": 3.55, "v": 6.1}, {"d": 3.58, "v": 3.5}, {"d": 3.61, "v": 2.2}, {"d": 3.64, "v": 1.9}, {"d": 3.67, "v": 2.7}, {"d": 3.7, "v": 4.2},
            {"d": 3.74, "v": 5.6}, {"d": 3.77, "v": 10.0}, {"d": 3.8, "v": 6.0}, {"d": 3.85, "v": 7.1}, {"d": 3.9, "v": 6.7}, {"d": 4.0, "v": 6.6},
            {"d": 4.1, "v": 6.5}, {"d": 4.2, "v": 6.8}, {"d": 4.3, "v": 6.6}, {"d": 4.4, "v": 6.4}, {"d": 4.5, "v": 5.9}, {"d": 4.6, "v": 5.4},
            {"d": 4.7, "v": 5.3}, {"d": 4.8, "v": 5.1}, {"d": 4.9, "v": 5.6}, {"d": 5.0, "v": 5.1}, {"d": 5.1, "v": 5.5}, {"d": 5.2, "v": 6.1},
            {"d": 5.3, "v": 6.8}, {"d": 5.35, "v": 7.0}, {"d": 5.4, "v": 6.4}, {"d": 5.5, "v": 5.4}, {"d": 5.55, "v": 5.1}, {"d": 5.6, "v": 6.1},
            {"d": 5.65, "v": 5.9}, {"d": 5.7, "v": 5.4}, {"d": 5.8, "v": 3.7}, {"d": 5.9, "v": 1.75}, {"d": 6.0, "v": 0.55}, {"d": 6.05, "v": 1.25},
            {"d": 6.1, "v": 0.55}, {"d": 6.15, "v": 0.9}, {"d": 6.2, "v": 1.25}, {"d": 6.3, "v": 2.0}, {"d": 6.4, "v": 3.0}, {"d": 6.45, "v": 2.4},
            {"d": 6.5, "v": 3.2}, {"d": 6.6, "v": 3.7}, {"d": 6.7, "v": 4.3}, {"d": 6.75, "v": 3.7}, {"d": 6.8, "v": 3.0}, {"d": 6.85, "v": 2.05},
            {"d": 6.9, "v": 3.0}, {"d": 7.0, "v": 3.4}, {"d": 7.1, "v": 4.05}, {"d": 7.2, "v": 4.7}, {"d": 7.3, "v": 5.0}, {"d": 7.4, "v": 5.6},
            {"d": 7.5, "v": 6.1}, {"d": 7.6, "v": 7.1}, {"d": 7.7, "v": 7.3}, {"d": 7.8, "v": 7.6}, {"d": 7.85, "v": 7.1}, {"d": 7.9, "v": 5.9},
            {"d": 8.0, "v": 5.1}, {"d": 8.05, "v": 5.4}, {"d": 8.1, "v": 6.6}, {"d": 8.2, "v": 7.6}, {"d": 8.3, "v": 7.9}, {"d": 8.35, "v": 7.3},
            {"d": 8.4, "v": 3.0}, {"d": 8.45, "v": 0.55}, {"d": 8.5, "v": 0.3}, {"d": 8.6, "v": 0.25}, {"d": 8.7, "v": 0.4}, {"d": 8.8, "v": 1.0},
            {"d": 8.85, "v": 1.25}, {"d": 8.9, "v": 0.8}, {"d": 8.95, "v": 1.15}, {"d": 9.0, "v": 0.65}, {"d": 9.1, "v": 0.4}, {"d": 9.2, "v": 0.1},
            {"d": 9.3, "v": 0.17}, {"d": 9.4, "v": 0.3}, {"d": 9.5, "v": 0.4}, {"d": 9.7, "v": 0.45}, {"d": 10.0, "v": 0.4}, {"d": 10.2, "v": 0.38},
            {"d": 10.5, "v": 0.4}, {"d": 10.8, "v": 0.42}, {"d": 11.0, "v": 0.45}, {"d": 11.2, "v": 0.3}, {"d": 11.3, "v": 1.9}, {"d": 11.35, "v": 0.55},
            {"d": 11.4, "v": 0.17}, {"d": 11.5, "v": 0.3}, {"d": 11.6, "v": 0.4}, {"d": 11.93, "v": 0.4}
          ]},
          "encoding": {
            "x": {
              "field": "v", "type": "quantitative", "scale": {"domain": [0, 10], "nice": false},
              "axis": {"title": "Rf (%)", "values": [0, 2, 4, 6, 8, 10], "grid": true, "labelPadding": 4.5, "titlePadding": 2.5}
            },
            "y": {
              "field": "d", "type": "quantitative", "scale": {"domain": [0, 11.93], "reverse": true, "nice": false},
              "axis": {"title": "Depth (m)", "values": [0, 0.5, 1, 1.5, 2, 2.5, 3, 3.5, 4, 4.5, 5, 5.5, 6, 6.5, 7, 7.5, 8, 8.5, 9, 9.5, 10, 10.5, 11, 11.5], "format": "~f", "grid": true, "labelPadding": 3, "titlePadding": 11, "titleFontSize": 10.5}
            },
            "order": {"field": "d", "type": "quantitative"}
          },
          "layer": [
            {"mark": {"type": "line", "color": "#454545", "strokeWidth": 2.6}},
            {"mark": {"type": "line", "color": "#b8b8b8", "strokeWidth": 0.8}}
          ]
        },
        {"width": 74.3, "height": 1, "data": {"values": []}, "mark": "point"},
        {
          "width": 134,
          "height": 471.7,
          "view": {"stroke": "#777777", "strokeWidth": 1.2},
          "title": {"text": "Pore pressure u"},
          "encoding": {
            "x": {
              "field": "p", "type": "quantitative", "scale": {"domain": [0, 65.6], "nice": false},
              "axis": {"title": "Pressure (kPa)", "values": [0, 20, 40, 60], "grid": true, "labelPadding": 4.5, "titlePadding": 2.5}
            },
            "y": {
              "field": "d", "type": "quantitative", "scale": {"domain": [0, 11.93], "reverse": true, "nice": false},
              "axis": {"title": "Depth (m)", "values": [0, 0.5, 1, 1.5, 2, 2.5, 3, 3.5, 4, 4.5, 5, 5.5, 6, 6.5, 7, 7.5, 8, 8.5, 9, 9.5, 10, 10.5, 11, 11.5], "format": "~f", "grid": true, "labelPadding": 3, "titlePadding": 11, "titleFontSize": 10.5}
            }
          },
          "layer": [
            {
              "data": {"values": [{"p": 0, "d": 5.28}, {"p": 65.6, "d": 11.93}]},
              "mark": {"type": "line", "color": "#4d7cb2", "strokeWidth": 2},
              "encoding": {"order": {"field": "d", "type": "quantitative"}}
            },
            {
              "data": {"values": [{"p": 0, "p1": 65.6, "d": 5.28}]},
              "mark": {"type": "rule", "color": "#5b86b8", "strokeWidth": 1.2},
              "encoding": {"x2": {"field": "p1"}}
            },
            {
              "data": {"values": [{"p": 29.5, "p1": 35.5, "d": 5.34}, {"p": 30.8, "p1": 34.2, "d": 5.41}]},
              "mark": {"type": "rule", "color": "#8fb0d6", "strokeWidth": 1.5},
              "encoding": {"x2": {"field": "p1"}}
            },
            {
              "data": {"values": [{"p": 32.5, "d": 5.15}]},
              "mark": {"type": "point", "shape": "triangle-down", "filled": true, "size": 55, "color": "#4a78b0", "opacity": 1}
            }
          ]
        },
        {"width": 71.7, "height": 1, "data": {"values": []}, "mark": "point"},
        {
          "width": 136,
          "height": 471.7,
          "view": {"stroke": "#777777", "strokeWidth": 1.2},
          "title": {"text": "SBT Index"},
          "encoding": {
            "x": {
              "field": "ic", "type": "quantitative", "scale": {"domain": [1, 4], "nice": false},
              "axis": {"title": "I(SBT)", "values": [1, 1.2, 1.4, 1.6, 1.8, 2, 2.2, 2.4, 2.6, 2.8, 3, 3.2, 3.4, 3.6, 3.8, 4], "format": "~f", "labelExpr": "datum.value % 1 === 0 ? datum.label : ''", "grid": false, "zindex": 1, "labelPadding": 4.5, "titlePadding": 2.5}
            },
            "y": {
              "field": "d", "type": "quantitative", "scale": {"domain": [0, 11.93], "reverse": true, "nice": false},
              "axis": {"title": "Depth (m)", "values": [0, 0.5, 1, 1.5, 2, 2.5, 3, 3.5, 4, 4.5, 5, 5.5, 6, 6.5, 7, 7.5, 8, 8.5, 9, 9.5, 10, 10.5, 11, 11.5], "format": "~f", "grid": false, "zindex": 1, "labelPadding": 3, "titlePadding": 11, "titleFontSize": 10.5}
            }
          },
          "layer": [
            {
              "data": {"values": [
                {"ic": 1, "ic2": 1.31, "d": 0, "d2": 11.93, "zone": "7. Gravely sand to sand"},
                {"ic": 1.31, "ic2": 2.05, "d": 0, "d2": 11.93, "zone": "6. Clean sand to silty sand"},
                {"ic": 2.05, "ic2": 2.6, "d": 0, "d2": 11.93, "zone": "5. Silty sand to sandy silt"},
                {"ic": 2.6, "ic2": 2.95, "d": 0, "d2": 11.93, "zone": "4. Clayey silt to silty clay"},
                {"ic": 2.95, "ic2": 3.6, "d": 0, "d2": 11.93, "zone": "3. Clay to silty clay"},
                {"ic": 3.6, "ic2": 4, "d": 0, "d2": 11.93, "zone": "2. Organic material"}
              ]},
              "mark": {"type": "rect"},
              "encoding": {
                "x2": {"field": "ic2"},
                "y2": {"field": "d2"},
                "fill": {
                  "field": "zone", "type": "nominal",
                  "scale": {
                    "domain": ["1. Sensitive fine grained", "2. Organic material", "3. Clay to silty clay", "4. Clayey silt to silty clay", "5. Silty sand to sandy silt", "6. Clean sand to silty sand", "7. Gravely sand to sand", "8. Very stiff sand to clayey sand", "9. Very stiff fine grained"],
                    "range": ["#d4633c", "#b06a4a", "#55506a", "#3e6f7e", "#7eaaa3", "#bb9b66", "#e38b3e", "#8b8a93", "#dcdce0"]
                  },
                  "legend": {
                    "title": "SBT legend", "orient": "none", "legendX": -26.2, "legendY": 504.3, "columns": 3, "padding": 0,
                    "titleFont": "DejaVu Sans", "titleFontSize": 9, "titleFontWeight": "bold", "titleColor": "#222222", "titlePadding": 5,
                    "labelFont": "DejaVu Sans", "labelFontSize": 8.6, "labelColor": "#333333", "labelOffset": 6, "labelLimit": 0,
                    "symbolType": "square", "symbolSize": 100, "symbolStrokeColor": "#555555", "symbolStrokeWidth": 0.8, "symbolOpacity": 1,
                    "rowPadding": 0.5, "columnPadding": 11
                  }
                }
              }
            },
            {
              "data": {"values": [
                {"d": 0, "ic": 2.77}, {"d": 0.03, "ic": 2.2}, {"d": 0.08, "ic": 2.25}, {"d": 0.12, "ic": 2.45}, {"d": 0.16, "ic": 2.7}, {"d": 0.2, "ic": 3.0},
                {"d": 0.25, "ic": 3.3}, {"d": 0.3, "ic": 3.45}, {"d": 0.35, "ic": 3.35}, {"d": 0.4, "ic": 3.55}, {"d": 0.45, "ic": 3.7}, {"d": 0.5, "ic": 3.95},
                {"d": 0.55, "ic": 4.0}, {"d": 0.58, "ic": 3.9}, {"d": 0.61, "ic": 4.0}, {"d": 0.65, "ic": 3.6}, {"d": 0.7, "ic": 3.4}, {"d": 0.75, "ic": 3.55},
                {"d": 0.8, "ic": 3.45}, {"d": 0.9, "ic": 3.5}, {"d": 1.0, "ic": 3.4}, {"d": 1.05, "ic": 3.55}, {"d": 1.1, "ic": 3.4}, {"d": 1.2, "ic": 3.5},
                {"d": 1.25, "ic": 3.4}, {"d": 1.29, "ic": 3.1}, {"d": 1.32, "ic": 3.45}, {"d": 1.38, "ic": 3.93}, {"d": 1.42, "ic": 3.55}, {"d": 1.5, "ic": 3.45},
                {"d": 1.6, "ic": 3.45}, {"d": 1.7, "ic": 3.4}, {"d": 1.8, "ic": 3.5}, {"d": 1.9, "ic": 3.45}, {"d": 2.0, "ic": 3.5}, {"d": 2.2, "ic": 3.5},
                {"d": 2.4, "ic": 3.55}, {"d": 2.5, "ic": 3.5}, {"d": 2.6, "ic": 3.45}, {"d": 2.8, "ic": 3.45}, {"d": 3.0, "ic": 3.42}, {"d": 3.2, "ic": 3.4},
                {"d": 3.4, "ic": 3.38}, {"d": 3.5, "ic": 3.4}, {"d": 3.56, "ic": 3.35}, {"d": 3.62, "ic": 3.13}, {"d": 3.66, "ic": 3.35}, {"d": 3.7, "ic": 3.5},
                {"d": 3.78, "ic": 3.66}, {"d": 3.82, "ic": 3.3}, {"d": 3.86, "ic": 3.15}, {"d": 4.0, "ic": 3.1}, {"d": 4.2, "ic": 3.12}, {"d": 4.4, "ic": 3.05},
                {"d": 4.6, "ic": 3.0}, {"d": 4.8, "ic": 2.95}, {"d": 5.0, "ic": 3.0}, {"d": 5.2, "ic": 3.05}, {"d": 5.3, "ic": 3.18}, {"d": 5.4, "ic": 3.05},
                {"d": 5.5, "ic": 3.15}, {"d": 5.6, "ic": 3.1}, {"d": 5.7, "ic": 3.15}, {"d": 5.8, "ic": 2.9}, {"d": 5.9, "ic": 2.5}, {"d": 6.0, "ic": 2.15},
                {"d": 6.05, "ic": 2.0}, {"d": 6.1, "ic": 2.25}, {"d": 6.15, "ic": 1.95}, {"d": 6.2, "ic": 1.95}, {"d": 6.25, "ic": 2.3}, {"d": 6.3, "ic": 2.55},
                {"d": 6.4, "ic": 2.6}, {"d": 6.5, "ic": 2.75}, {"d": 6.55, "ic": 2.65}, {"d": 6.6, "ic": 2.85}, {"d": 6.65, "ic": 3.05}, {"d": 6.7, "ic": 2.95},
                {"d": 6.8, "ic": 2.95}, {"d": 6.85, "ic": 2.85}, {"d": 6.9, "ic": 2.95}, {"d": 7.0, "ic": 3.0}, {"d": 7.2, "ic": 3.05}, {"d": 7.4, "ic": 3.05},
                {"d": 7.5, "ic": 3.1}, {"d": 7.6, "ic": 3.08}, {"d": 7.7, "ic": 3.1}, {"d": 7.8, "ic": 3.05}, {"d": 7.9, "ic": 2.9}, {"d": 8.0, "ic": 2.85},
                {"d": 8.1, "ic": 2.95}, {"d": 8.2, "ic": 3.05}, {"d": 8.3, "ic": 3.1}, {"d": 8.35, "ic": 3.0}, {"d": 8.4, "ic": 2.5}, {"d": 8.45, "ic": 2.1},
                {"d": 8.5, "ic": 1.9}, {"d": 8.6, "ic": 1.85}, {"d": 8.7, "ic": 1.75}, {"d": 8.75, "ic": 1.8}, {"d": 8.8, "ic": 2.1}, {"d": 8.85, "ic": 2.3},
                {"d": 8.9, "ic": 2.35}, {"d": 8.95, "ic": 2.2}, {"d": 9.0, "ic": 2.4}, {"d": 9.05, "ic": 2.5}, {"d": 9.1, "ic": 2.2}, {"d": 9.2, "ic": 1.9},
                {"d": 9.3, "ic": 1.8}, {"d": 9.4, "ic": 1.85}, {"d": 9.5, "ic": 1.95}, {"d": 9.6, "ic": 2.0}, {"d": 9.7, "ic": 1.95}, {"d": 9.8, "ic": 1.95},
                {"d": 9.9, "ic": 1.85}, {"d": 10.0, "ic": 1.8}, {"d": 10.1, "ic": 1.78}, {"d": 10.2, "ic": 1.75}, {"d": 10.3, "ic": 1.75}, {"d": 10.4, "ic": 1.78},
                {"d": 10.5, "ic": 1.8}, {"d": 10.6, "ic": 2.0}, {"d": 10.7, "ic": 2.1}, {"d": 10.8, "ic": 2.15}, {"d": 10.9, "ic": 2.15}, {"d": 11.0, "ic": 2.05},
                {"d": 11.1, "ic": 2.0}, {"d": 11.15, "ic": 2.1}, {"d": 11.2, "ic": 2.2}, {"d": 11.25, "ic": 2.5}, {"d": 11.3, "ic": 2.35}, {"d": 11.35, "ic": 2.0},
                {"d": 11.4, "ic": 1.9}, {"d": 11.45, "ic": 1.75}, {"d": 11.5, "ic": 1.75}, {"d": 11.55, "ic": 1.8}, {"d": 11.6, "ic": 1.85}, {"d": 11.65, "ic": 1.85},
                {"d": 11.7, "ic": 1.8}, {"d": 11.75, "ic": 1.75}, {"d": 11.8, "ic": 1.8}, {"d": 11.85, "ic": 1.75}, {"d": 11.88, "ic": 1.0}
              ]},
              "mark": {"type": "line", "color": "#f5e400", "strokeWidth": 2},
              "encoding": {"order": {"field": "d", "type": "quantitative"}}
            }
          ]
        },
        {"width": 70, "height": 1, "data": {"values": []}, "mark": "point"},
        {
          "width": 193.3,
          "height": 471.7,
          "view": {"stroke": "#777777", "strokeWidth": 1.2},
          "title": {"text": "Soil Behaviour Type"},
          "encoding": {
            "x": {
              "field": "s", "type": "quantitative", "scale": {"domain": [0, 18], "nice": false},
              "axis": {"title": "SBT (Robertson, 2010)", "values": [0, 2, 4, 6, 8, 10, 12, 14, 16, 18], "grid": true, "labelPadding": 4.5, "titlePadding": 2.5}
            },
            "y": {
              "field": "d", "type": "quantitative", "scale": {"domain": [0, 11.93], "reverse": true, "nice": false},
              "axis": {"title": "Depth (m)", "values": [0, 0.5, 1, 1.5, 2, 2.5, 3, 3.5, 4, 4.5, 5, 5.5, 6, 6.5, 7, 7.5, 8, 8.5, 9, 9.5, 10, 10.5, 11, 11.5], "format": "~f", "grid": true, "labelPadding": 3, "titlePadding": 11, "titleFontSize": 10.5}
            }
          },
          "layer": [
            {
              "data": {"values": [
                {"d": 0.04, "d2": 0.12, "s": 0, "n": 5, "zone": "5. Silty sand to sandy silt"},
                {"d": 0.12, "d2": 0.17, "s": 0, "n": 4, "zone": "4. Clayey silt to silty clay"},
                {"d": 0.17, "d2": 0.29, "s": 0, "n": 3, "zone": "3. Clay to silty clay"},
                {"d": 0.31, "d2": 0.4, "s": 0, "n": 1, "zone": "1. Sensitive fine grained"},
                {"d": 0.4, "d2": 0.59, "s": 0, "n": 2, "zone": "2. Organic material"},
                {"d": 0.61, "d2": 1.31, "s": 0, "n": 3, "zone": "3. Clay to silty clay"},
                {"d": 1.32, "d2": 1.43, "s": 0, "n": 2, "zone": "2. Organic material"},
                {"d": 1.45, "d2": 3.68, "s": 0, "n": 3, "zone": "3. Clay to silty clay"},
                {"d": 3.56, "d2": 3.585, "s": 0, "n": 4, "zone": "4. Clayey silt to silty clay"},
                {"d": 3.7, "d2": 3.75, "s": 0, "n": 2, "zone": "2. Organic material"},
                {"d": 3.77, "d2": 5.84, "s": 0, "n": 3, "zone": "3. Clay to silty clay"},
                {"d": 5.84, "d2": 5.95, "s": 0, "n": 4, "zone": "4. Clayey silt to silty clay"},
                {"d": 5.95, "d2": 6.05, "s": 0, "n": 5, "zone": "5. Silty sand to sandy silt"},
                {"d": 6.05, "d2": 6.24, "s": 0, "n": 6, "zone": "6. Clean sand to silty sand"},
                {"d": 6.24, "d2": 6.3, "s": 0, "n": 5, "zone": "5. Silty sand to sandy silt"},
                {"d": 6.3, "d2": 6.62, "s": 0, "n": 4, "zone": "4. Clayey silt to silty clay"},
                {"d": 6.62, "d2": 6.82, "s": 0, "n": 3, "zone": "3. Clay to silty clay"},
                {"d": 6.82, "d2": 6.92, "s": 0, "n": 4, "zone": "4. Clayey silt to silty clay"},
                {"d": 6.92, "d2": 8.4, "s": 0, "n": 3, "zone": "3. Clay to silty clay"},
                {"d": 8.4, "d2": 8.45, "s": 0, "n": 5, "zone": "5. Silty sand to sandy silt"},
                {"d": 8.45, "d2": 8.8, "s": 0, "n": 6, "zone": "6. Clean sand to silty sand"},
                {"d": 8.8, "d2": 9.18, "s": 0, "n": 5, "zone": "5. Silty sand to sandy silt"},
                {"d": 9.22, "d2": 10.62, "s": 0, "n": 6, "zone": "6. Clean sand to silty sand"},
                {"d": 10.62, "d2": 10.98, "s": 0, "n": 5, "zone": "5. Silty sand to sandy silt"},
                {"d": 10.98, "d2": 11.24, "s": 0, "n": 6, "zone": "6. Clean sand to silty sand"},
                {"d": 11.24, "d2": 11.3, "s": 0, "n": 5, "zone": "5. Silty sand to sandy silt"},
                {"d": 11.3, "d2": 11.36, "s": 0, "n": 4, "zone": "4. Clayey silt to silty clay"},
                {"d": 11.38, "d2": 11.93, "s": 0, "n": 6, "zone": "6. Clean sand to silty sand"}
              ]},
              "mark": {"type": "rect"},
              "encoding": {
                "x2": {"field": "n"},
                "y2": {"field": "d2"},
                "fill": {
                  "field": "zone", "type": "nominal",
                  "scale": {
                    "domain": ["1. Sensitive fine grained", "2. Organic material", "3. Clay to silty clay", "4. Clayey silt to silty clay", "5. Silty sand to sandy silt", "6. Clean sand to silty sand", "7. Gravely sand to sand", "8. Very stiff sand to clayey sand", "9. Very stiff fine grained"],
                    "range": ["#d4633c", "#b06a4a", "#55506a", "#3e6f7e", "#7eaaa3", "#bb9b66", "#e38b3e", "#8b8a93", "#dcdce0"]
                  },
                  "legend": null
                }
              }
            },
            {
              "data": {"values": [
                {"s": 9, "d": 0.1, "t": "Silty sand & sandy silt"}, {"s": 9, "d": 0.33, "t": "Sensitive fine grained"}, {"s": 9, "d": 0.98, "t": "Clay"},
                {"s": 9, "d": 1.36, "t": "Organic soil"}, {"s": 9, "d": 2.5, "t": "Clay"}, {"s": 9, "d": 3.59, "t": "Clay & silty clay"}, {"s": 9, "d": 4.79, "t": "Clay"},
                {"s": 9, "d": 5.84, "t": "Clay & silty clay"}, {"s": 9, "d": 6.1, "t": "Silty sand & sandy silt"}, {"s": 9, "d": 6.45, "t": "Clay & silty clay"},
                {"s": 9, "d": 6.62, "t": "Clay"}, {"s": 9, "d": 7.67, "t": "Clay"}, {"s": 9, "d": 8.39, "t": "Clay & silty clay"}, {"s": 9, "d": 8.52, "t": "Sand & silty sand"},
                {"s": 9, "d": 9.0, "t": "Silty sand & sandy silt"}, {"s": 9, "d": 9.86, "t": "Sand & silty sand"}, {"s": 9, "d": 10.79, "t": "Silty sand & sandy silt"},
                {"s": 9, "d": 11.14, "t": "Sand & silty sand"}, {"s": 9, "d": 11.35, "t": "Silty sand & sandy silt"}, {"s": 9, "d": 11.62, "t": "Sand & silty sand"}
              ]},
              "mark": {"type": "text", "font": "DejaVu Sans", "fontSize": 6.5, "color": "#333333", "align": "left", "baseline": "middle"},
              "encoding": {"text": {"field": "t"}}
            }
          ]
        }
      ]
    }
  ]
}
